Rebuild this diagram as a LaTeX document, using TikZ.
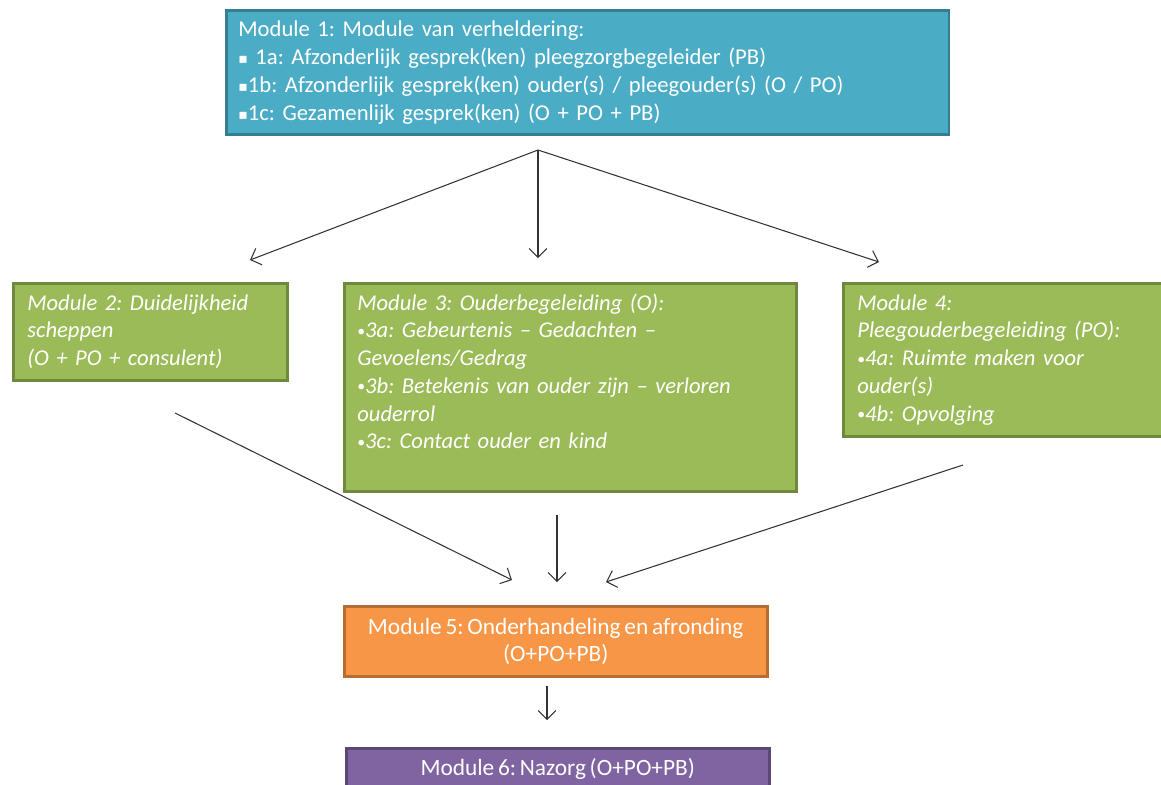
\documentclass[tikz,border=0pt]{standalone}
\usepackage{fontspec}
\usetikzlibrary{arrows.meta}
\setmainfont{Carlito}[WordSpace=0.7]
\newfontfamily\symfont{DejaVu Sans}
\frenchspacing
\definecolor{tealfill}{HTML}{4BACC6}
\definecolor{tealline}{HTML}{357D91}
\definecolor{greenfill}{HTML}{9BBB59}
\definecolor{greenline}{HTML}{71893F}
\definecolor{orangefill}{HTML}{F79646}
\definecolor{orangeline}{HTML}{B66D31}
\definecolor{purplefill}{HTML}{8064A2}
\definecolor{purpleline}{HTML}{5C4776}
\newcommand{\sqbul}{{\symfont\fontsize{8}{8}\selectfont\raisebox{0.4pt}{▪}}}
\newcommand{\dotbul}{{\upshape\fontsize{9}{9}\selectfont\raisebox{0.8pt}{•}}}
\begin{document}
\begin{tikzpicture}
    [x=0.02cm, y=-0.02cm, inner sep=0pt,
     >={Straight Barb[length=5pt,width=10pt]},
     box/.style={draw, line width=1.5pt, anchor=north west},
     boxtext/.style={anchor=base west, align=left, text=white,
       font=\fontsize{12.85}{15.8}\selectfont\itshape},
     link/.style={->, line width=0.6pt, draw=black!80}]
    \useasboundingbox (0, 0) rectangle (1161, 785);
    \clip (0, 0) rectangle (1161, 785);
    % module 1
    \node (mod1) at (225, 9) [box, draw=tealline, fill=tealfill,
      minimum width=14.46cm, minimum height=2.48cm] {};
    \node (mod1text) at (238, 36) [boxtext, text width=14cm,
      font=\fontsize{12.9}{16}\selectfont]
      {Module 1: Module van verheldering:\\
       \sqbul\ 1a: Afzonderlijk gesprek(ken) pleegzorgbegeleider (PB)\\
       \sqbul1b: Afzonderlijk gesprek(ken) ouder(s) / pleegouder(s) (O / PO)\\
       \sqbul1c: Gezamenlijk gesprek(ken) (O + PO + PB)};
    % modules 2, 3, 4
    \node (mod2) at (12, 282) [box, draw=greenline, fill=greenfill,
      minimum width=5.48cm, minimum height=1.94cm] {};
    \node (mod2text) at (27, 310) [boxtext, text width=5.2cm]
      {Module 2: Duidelijkheid\\
       scheppen\\
       (O + PO + consulent)};
    \node (mod3) at (343, 282) [box, draw=greenline, fill=greenfill,
      minimum width=9.04cm, minimum height=4.16cm] {};
    \node (mod3text) at (357, 310) [boxtext, text width=8.7cm]
      {Module 3: Ouderbegeleiding (O):\\
       \dotbul3a: Gebeurtenis – Gedachten –\\
       Gevoelens/Gedrag\\
       \dotbul3b: Betekenis van ouder zijn – verloren\\
       ouderrol\\
       \dotbul3c: Contact ouder en kind};
    \node (mod4) at (842, 282) [box, draw=greenline, fill=greenfill,
      minimum width=6.5cm, minimum height=3.06cm] {};
    \node (mod4text) at (857, 310) [boxtext, text width=6cm]
      {Module 4:\\
       Pleegouderbegeleiding (PO):\\
       \dotbul4a: Ruimte maken voor\\
       ouder(s)\\
       \dotbul4b: Opvolging};
    % modules 5 and 6
    \node (mod5) at (343, 605) [box, draw=orangeline, fill=orangefill,
      minimum width=8.46cm, minimum height=1.4cm, align=center, text=white,
      font=\fontsize{13.3}{15.6}\selectfont]
      {Module 5: Onderhandeling en afronding\\(O+PO+PB)};
    \node (mod6) at (345, 747) [box, draw=purpleline, fill=purplefill,
      minimum width=8.46cm, minimum height=1.4cm, text=white,
      font=\fontsize{13.3}{15.6}\selectfont, text depth=0.85cm, text height=0.55cm]
      {Module 6: Nazorg (O+PO+PB)};
    % connectors
    \coordinate (split) at (538, 150);
    \coordinate (in2) at (250, 260);
    \coordinate (in3) at (538, 258);
    \coordinate (in4) at (879, 262);
    \coordinate (out2) at (175, 413);
    \coordinate (out3) at (557, 515);
    \coordinate (out4) at (963, 465);
    \coordinate (in5a) at (512, 580);
    \coordinate (in5b) at (557, 582);
    \coordinate (in5c) at (606, 582);
    \coordinate (out5) at (547, 686);
    \coordinate (in6) at (547, 720);
    \draw [link] (split) to (in2);
    \draw [link] (split) to (in3);
    \draw [link] (split) to (in4);
    \draw [link] (out2) to (in5a);
    \draw [link] (out3) to (in5b);
    \draw [link] (out4) to (in5c);
    \draw [link] (out5) to (in6);
  \end{tikzpicture}
\end{document}
